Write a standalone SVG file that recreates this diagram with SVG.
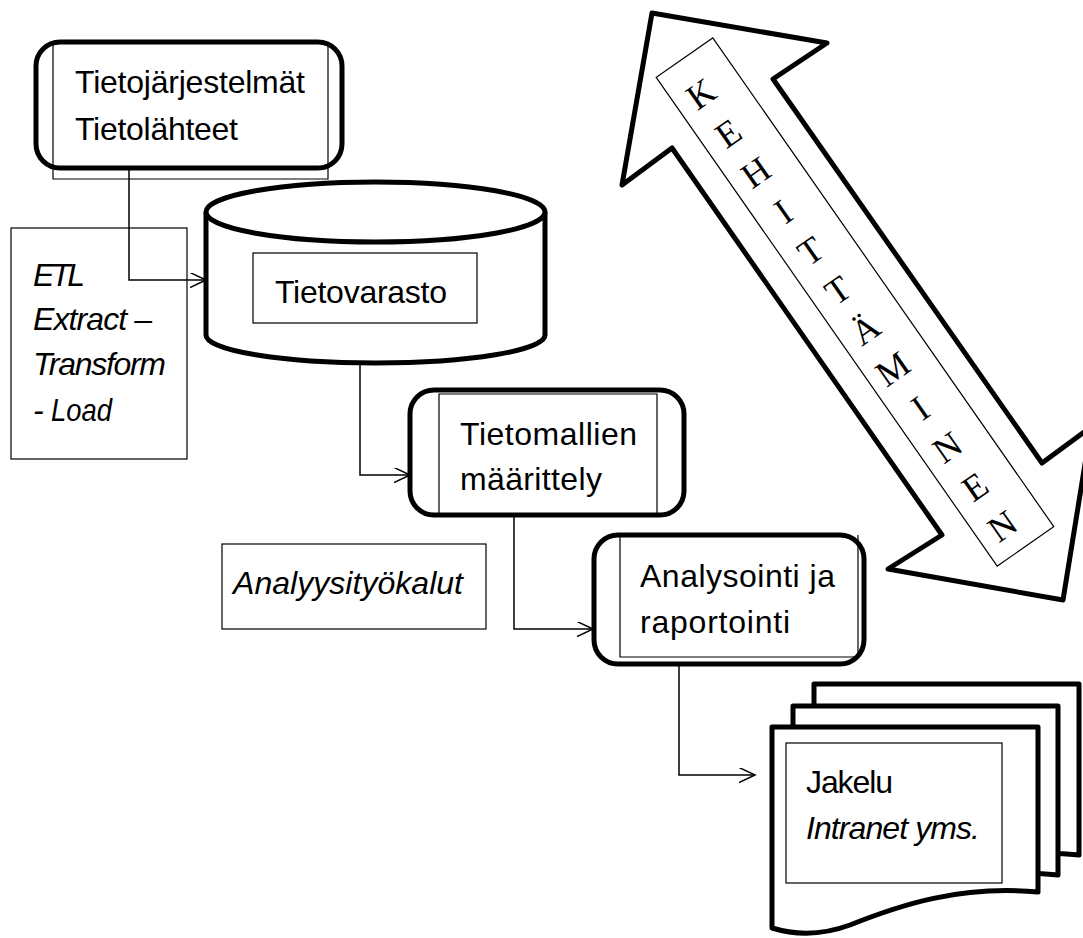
<svg xmlns="http://www.w3.org/2000/svg" width="1083" height="938" viewBox="0 0 1083 938">
  <defs>
    <style>
      .thick { fill: #ffffff; stroke: #000000; stroke-width: 5; stroke-linejoin: round; }
      .thin { fill: none; stroke: #000000; stroke-width: 1.2; }
      .conn { fill: none; stroke: #000000; stroke-width: 1.5; }
      .lbl { font-family: "Liberation Sans", Arial, sans-serif; font-size: 32px; fill: #000000; }
      .it { font-style: italic; }
      .serif { font-family: "Liberation Serif", "Times New Roman", serif; font-size: 36px; fill: #000000; }
    </style>
    <marker id="open" markerUnits="userSpaceOnUse" markerWidth="18" markerHeight="18" refX="16" refY="7.5" orient="auto">
      <path d="M0,0 L16,7.5 L0,15" fill="none" stroke="#000000" stroke-width="1.5"/>
    </marker>
  </defs>
  <rect width="1083" height="938" fill="#ffffff"/>

  <!-- double-headed development arrow -->
  <g id="kehittaminen">
    <polygon class="thick" stroke-linejoin="miter" points="652,13 827,43 773,79 1042,463 1091,427 1063,600 888,569 942,535 672,148 622,185"/>
    <rect class="thin" x="-298" y="-34.5" width="596" height="69" transform="translate(855,302) rotate(55.1)"/>
    <g transform="translate(701,94) rotate(-34.9)" text-anchor="middle">
      <text class="serif" x="0" y="12">K</text>
      <text class="serif" x="0" y="59.9">E</text>
      <text class="serif" x="0" y="107.8">H</text>
      <text class="serif" x="0" y="155.7">I</text>
      <text class="serif" x="0" y="203.6">T</text>
      <text class="serif" x="0" y="251.5">T</text>
      <text class="serif" x="0" y="299.4">Ä</text>
      <text class="serif" x="0" y="347.3">M</text>
      <text class="serif" x="0" y="395.2">I</text>
      <text class="serif" x="0" y="443.1">N</text>
      <text class="serif" x="0" y="491">E</text>
      <text class="serif" x="0" y="538.9">N</text>
    </g>
  </g>

  <!-- source systems -->
  <g id="tietojarjestelmat">
    <rect class="thick" x="36" y="42" width="306" height="126" rx="24"/>
    <path class="thin" d="M53,42 L53,179 L328,179 L328,42"/>
    <text class="lbl" x="75" y="93" textLength="230">Tietojärjestelmät</text>
    <text class="lbl" x="75" y="140" textLength="163">Tietolähteet</text>
  </g>

  <!-- ETL note -->
  <g id="etl">
    <rect class="thin" x="11" y="228" width="176" height="231"/>
    <text class="lbl it" x="33" y="286" textLength="52">ETL</text>
    <text class="lbl it" x="33" y="330" textLength="119">Extract –</text>
    <text class="lbl it" x="33" y="375" textLength="133">Transform</text>
    <text class="lbl it" x="33" y="421">-<tspan x="51" textLength="61" lengthAdjust="spacingAndGlyphs">Load</tspan></text>
  </g>

  <!-- data warehouse cylinder -->
  <g id="tietovarasto">
    <path class="thick" d="M206,212 L206,335 A169.5,28 0 0,0 545,335 L545,212"/>
    <ellipse class="thick" cx="375.5" cy="212" rx="169.5" ry="30"/>
    <rect class="thin" x="253" y="253" width="224" height="70"/>
    <text class="lbl" x="275" y="303" textLength="172">Tietovarasto</text>
  </g>

  <!-- data model definition -->
  <g id="tietomallien-maarittely">
    <rect class="thick" x="410" y="390" width="274" height="125" rx="24"/>
    <path class="thin" d="M439,515 L439,394 L657,394 L657,515"/>
    <text class="lbl" x="460" y="445" textLength="177">Tietomallien</text>
    <text class="lbl" x="460" y="490" textLength="142">määrittely</text>
  </g>

  <!-- analysis tools note -->
  <g id="analyysityokalut">
    <rect class="thin" x="222" y="544" width="264" height="85"/>
    <text class="lbl it" x="233" y="594" textLength="230">Analyysityökalut</text>
  </g>

  <!-- analysis and reporting -->
  <g id="analysointi">
    <rect class="thick" x="594" y="535" width="270" height="129" rx="24"/>
    <path class="thin" d="M620,535 L620,657 L858,657 L858,535"/>
    <text class="lbl" x="640" y="587" textLength="195">Analysointi ja</text>
    <text class="lbl" x="640" y="633" textLength="150">raportointi</text>
  </g>

  <!-- distribution: stack of documents -->
  <g id="jakelu">
    <path class="thick" stroke-linejoin="miter" d="M814,684 L1079,684 L1079,855 C1001,848 941,868 891,888 C861,899 836,898 814,891 Z"/>
    <path class="thick" stroke-linejoin="miter" d="M793,706 L1058,706 L1058,875 C980,868 920,888 870,908 C840,919 815,918 793,911 Z"/>
    <path class="thick" stroke-linejoin="miter" d="M772,727 L1038,727 L1038,892 C960,885 900,905 850,925 C820,936 795,935 772,928 Z"/>
    <rect class="thin" x="786" y="743" width="216" height="140"/>
    <text class="lbl" x="806" y="793" textLength="87">Jakelu</text>
    <text class="lbl it" x="806" y="839" textLength="174">Intranet yms.</text>
  </g>

  <!-- flow connectors -->
  <g id="connectors">
    <path class="conn" marker-end="url(#open)" d="M129,168 L129,280 L206,280"/>
    <path class="conn" marker-end="url(#open)" d="M360,363 L360,475 L410,475"/>
    <path class="conn" marker-end="url(#open)" d="M514,515 L514,629 L593,629"/>
    <path class="conn" marker-end="url(#open)" d="M679,664 L679,775 L755,775"/>
  </g>
</svg>
